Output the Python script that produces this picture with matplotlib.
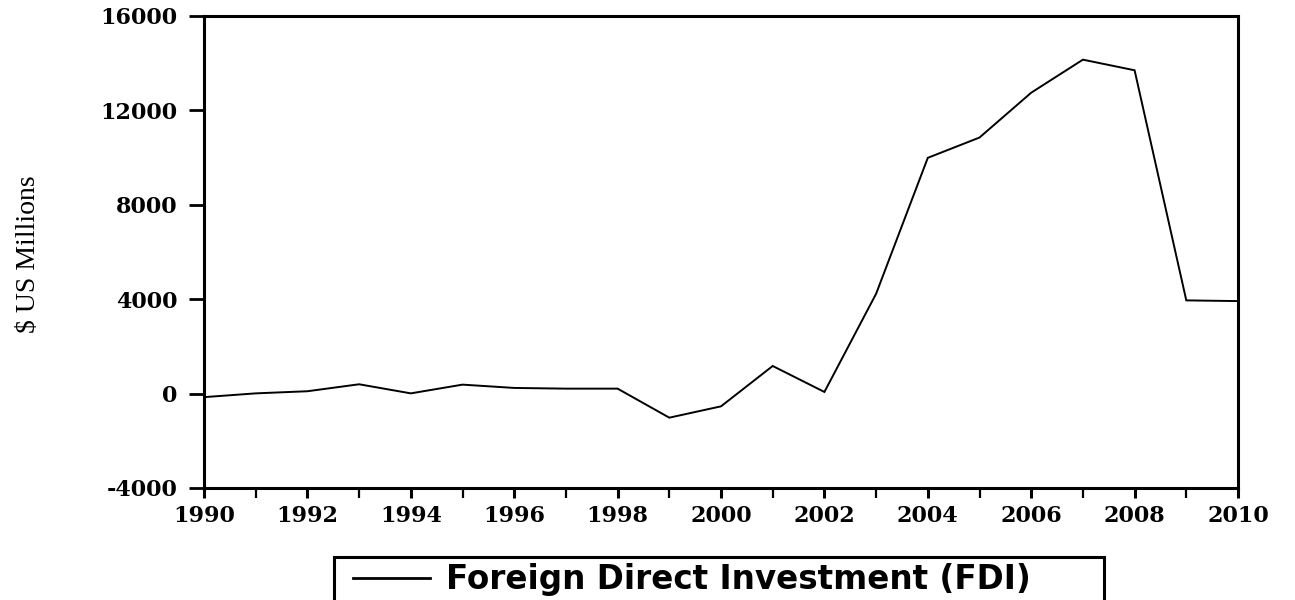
import matplotlib
matplotlib.use("Agg")
import matplotlib.pyplot as plt
from matplotlib.ticker import MultipleLocator
from matplotlib.patches import Rectangle

years = list(range(1990, 2011))
fdi = [-150, 10, 100, 395, 10, 380, 240, 210, 210, -1020, -540, 1170, 70,
       4230, 9990, 10850, 12750, 14150, 13700, 3950, 3920]
y_ticks = [-4000, 0, 4000, 8000, 12000, 16000]
x_labels = [1990, 1992, 1994, 1996, 1998, 2000, 2002, 2004, 2006, 2008, 2010]
series_label = "Foreign Direct Investment (FDI)"
y_label = r"\$ US Millions"

W, H = 1295, 600
fig = plt.figure(figsize=(W/100, H/100), dpi=100)
ax = fig.add_axes([204/W, 1-488/H, (1238-204)/W, (488-16)/H])
line, = ax.plot(years, fdi, color="black", lw=1.4, solid_joinstyle="miter")

ax.set_xlim(1990, 2010)
ax.set_ylim(-4000, 16000)
ax.xaxis.set_minor_locator(MultipleLocator(1))

for s in ax.spines.values():
    s.set_linewidth(2.2)
ax.tick_params(axis="y", direction="out", length=11, width=2.0, pad=8)
ax.tick_params(axis="x", which="major", direction="out", length=7.5, width=2.2, pad=5)
ax.tick_params(axis="x", which="minor", direction="out", length=7.5, width=1.6)

tick_font = dict(family="DejaVu Serif", weight="bold", size=16)
ax.set_yticks(y_ticks)
ax.set_yticklabels([str(v) for v in y_ticks], fontdict=tick_font)
ax.set_xticks(x_labels)
ax.set_xticklabels([str(v) for v in x_labels], fontdict=tick_font)

fig.text(29/W, 1-254/H, y_label, rotation=90, ha="center", va="center",
         family="Liberation Serif", size=20)

# legend frame (box runs past the bottom edge, as in the reference)
fig.patches.append(Rectangle((334/W, 1-620/H), (1104-334)/W, (620-557)/H,
                             transform=fig.transFigure, fill=False,
                             edgecolor="black", linewidth=2.2))
leg = fig.legend([line], [series_label], loc="center left",
                 bbox_to_anchor=(353/W, 1-580/H),
                 prop=dict(family="DejaVu Sans", weight="bold", size=23.5),
                 frameon=False, handlelength=2.35, handletextpad=0.5,
                 borderpad=0.0, borderaxespad=0.0)
leg.legend_handles[0].set_linewidth(2.0)

fig.savefig("out.png", dpi=100, facecolor="white")
